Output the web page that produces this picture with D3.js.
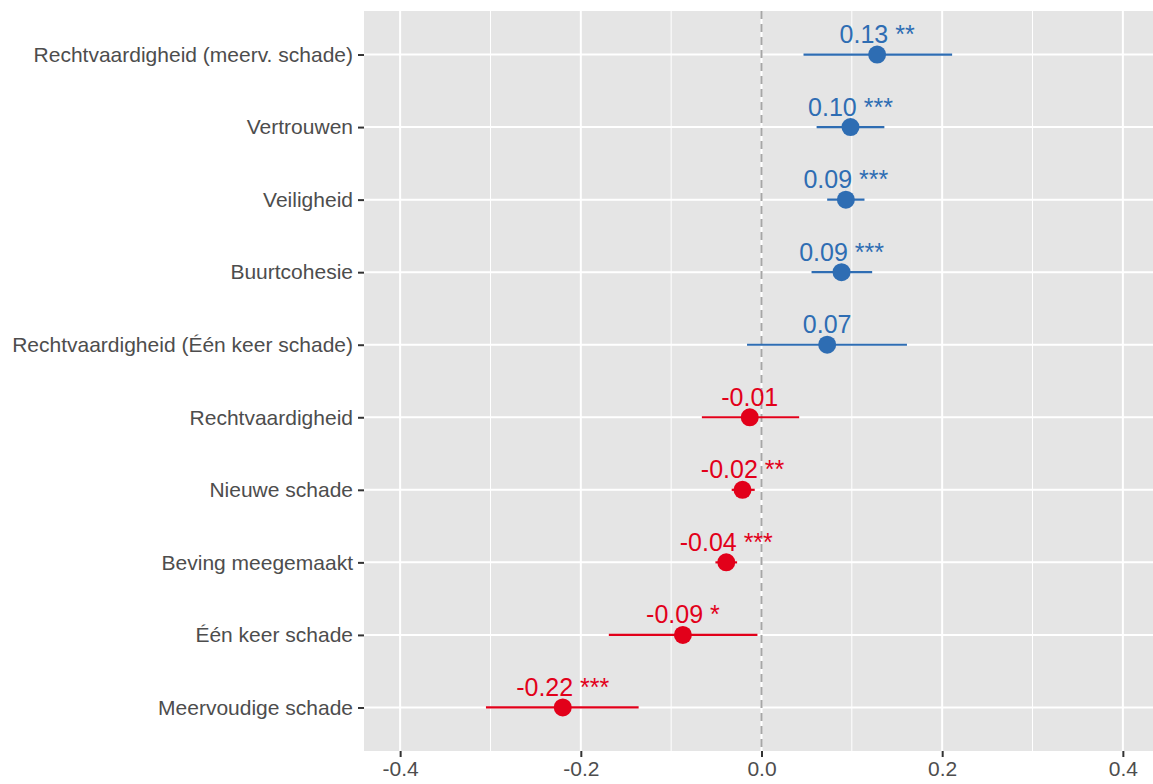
<!DOCTYPE html>
<html>
<head>
<meta charset="utf-8">
<title>Effecten</title>
<script src="https://cdn.jsdelivr.net/npm/d3@7"></script>
<style>
  body { margin: 0; background: #fff; }
  text { font-family: "Liberation Sans", Arial, Helvetica, sans-serif; }
</style>
</head>
<body>
<div id="chart"></div>
<script>
// data, top row first
var labels = ["Rechtvaardigheid (meerv. schade)", "Vertrouwen", "Veiligheid", "Buurtcohesie",
  "Rechtvaardigheid (Één keer schade)", "Rechtvaardigheid", "Nieuwe schade",
  "Beving meegemaakt", "Één keer schade", "Meervoudige schade"];
var estimates = [0.128, 0.0985, 0.0934, 0.0886, 0.0727, -0.013, -0.021, -0.039, -0.087, -0.220];
var lower = [0.0465, 0.061, 0.0727, 0.0554, -0.016, -0.066, -0.033, -0.051, -0.169, -0.305];
var upper = [0.211, 0.136, 0.114, 0.1225, 0.161, 0.0417, -0.0075, -0.027, -0.0045, -0.136];
var valueText = ["0.13 **", "0.10 ***", "0.09 ***", "0.09 ***", "0.07", "-0.01", "-0.02 **", "-0.04 ***", "-0.09 *", "-0.22 ***"];
var xTicks = [-0.4, -0.2, 0.0, 0.2, 0.4];
var xMinor = [-0.3, -0.1, 0.1, 0.3];

var W = 1153, H = 784;
var panel = {left: 364, top: 11, right: 1159, bottom: 751};
var blue = "#2e6db3", red = "#e2001a";

var svg = d3.select("#chart").append("svg")
  .attr("width", W).attr("height", H);

var x = d3.scaleLinear().domain([-0.44, 0.44]).range([panel.left, panel.right]);
var y = d3.scalePoint().domain(labels).range([panel.top, panel.bottom]).padding(0.6);

// panel background
svg.append("rect")
  .attr("x", panel.left).attr("y", panel.top)
  .attr("width", panel.right - panel.left).attr("height", panel.bottom - panel.top)
  .attr("fill", "#e5e5e5");

// gridlines
svg.selectAll(".minor").data(xMinor).enter().append("line")
  .attr("x1", d => x(d)).attr("x2", d => x(d))
  .attr("y1", panel.top).attr("y2", panel.bottom)
  .attr("stroke", "#fff").attr("stroke-width", 1);
svg.selectAll(".majorx").data(xTicks).enter().append("line")
  .attr("x1", d => x(d)).attr("x2", d => x(d))
  .attr("y1", panel.top).attr("y2", panel.bottom)
  .attr("stroke", "#fff").attr("stroke-width", 2);
svg.selectAll(".majory").data(labels).enter().append("line")
  .attr("x1", panel.left).attr("x2", panel.right)
  .attr("y1", d => y(d)).attr("y2", d => y(d))
  .attr("stroke", "#fff").attr("stroke-width", 2);

// zero reference
svg.append("line")
  .attr("x1", x(0)).attr("x2", x(0))
  .attr("y1", panel.top).attr("y2", panel.bottom)
  .attr("stroke", "#a6a6a6").attr("stroke-width", 2)
  .attr("stroke-dasharray", "8,5");

// axes
var xAxis = svg.append("g")
  .attr("transform", "translate(0," + panel.bottom + ")")
  .call(d3.axisBottom(x).tickValues(xTicks).tickFormat(d => d3.format(".1f")(d).replace("−", "-")).tickSize(6).tickPadding(4));
var yAxis = svg.append("g")
  .attr("transform", "translate(" + panel.left + ",0)")
  .call(d3.axisLeft(y).tickSize(6).tickPadding(5));
[xAxis, yAxis].forEach(function(a) {
  a.select(".domain").remove();
  a.selectAll(".tick line").attr("stroke", "#333").attr("stroke-width", 2);
  a.selectAll(".tick text").attr("fill", "#4d4d4d").style("font-size", "21px");
});

var rows = labels.map(function(l, i) {
  return {label: l, est: estimates[i], lo: lower[i], hi: upper[i], txt: valueText[i]};
});
var col = d => d.est >= 0 ? blue : red;

// intervals
svg.selectAll(".ci").data(rows).enter().append("line")
  .attr("x1", d => x(d.lo)).attr("x2", d => x(d.hi))
  .attr("y1", d => y(d.label)).attr("y2", d => y(d.label))
  .attr("stroke", col).attr("stroke-width", 2.2);

// points
svg.selectAll(".pt").data(rows).enter().append("circle")
  .attr("cx", d => x(d.est)).attr("cy", d => y(d.label))
  .attr("r", 9).attr("fill", col);

// value labels
svg.selectAll(".val").data(rows).enter().append("text")
  .attr("x", d => x(d.est)).attr("y", d => y(d.label) - 11.5)
  .attr("text-anchor", "middle")
  .attr("fill", col)
  .style("font-size", "25px")
  .text(d => d.txt);
</script>
</body>
</html>
